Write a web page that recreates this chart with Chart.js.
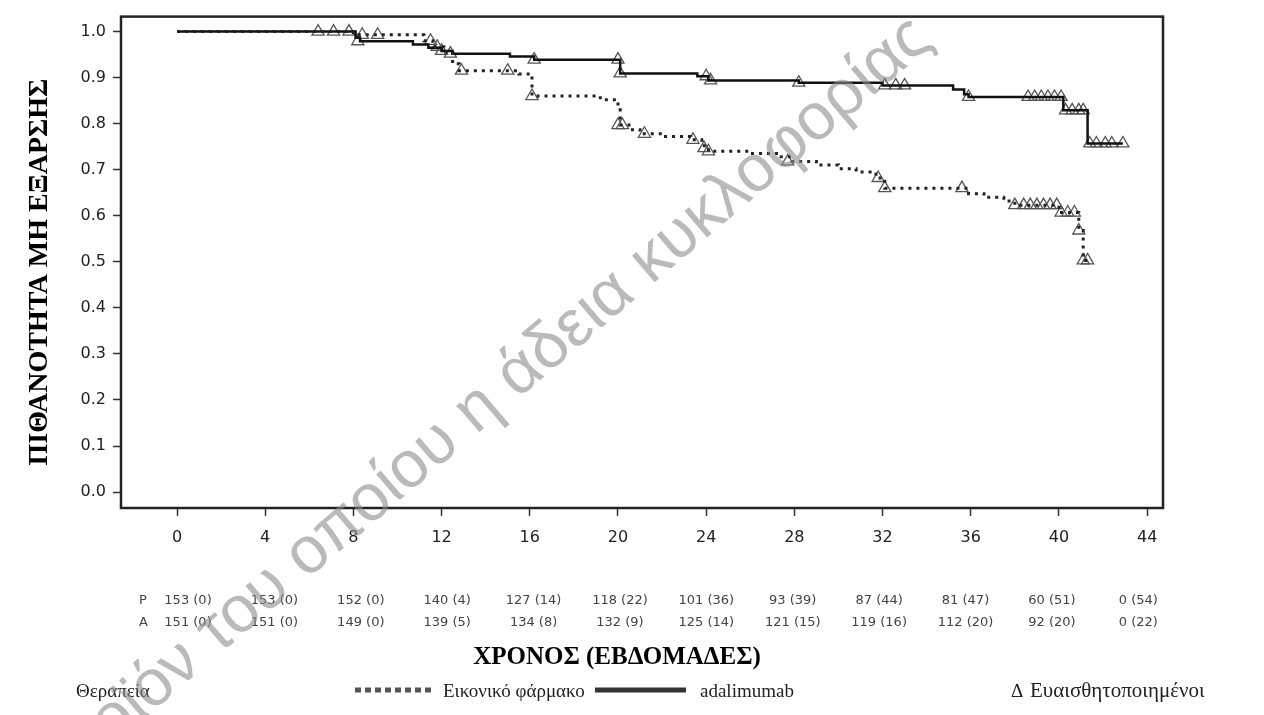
<!DOCTYPE html>
<html>
<head>
<meta charset="utf-8">
<script src="https://cdn.jsdelivr.net/npm/chart.js@4.4.1/dist/chart.umd.min.js"></script>
<style>
  body { margin: 0; background: #fff; }
  canvas { display: block; }
</style>
</head>
<body>
<canvas id="kmChart" width="1264" height="715"></canvas>
<script>
// week ticks on the x axis
const weekTicks = [0, 4, 8, 12, 16, 20, 24, 28, 32, 36, 40, 44];
const probTicks = [0, 0.1, 0.2, 0.3, 0.4, 0.5, 0.6, 0.7, 0.8, 0.9, 1.0];

// Kaplan-Meier steps: [week, probability]
const placeboSteps = [
    [0, 1.0], [8.0, 0.993], [11.2, 0.98], [11.6, 0.967], [12.1, 0.955], [12.5, 0.93], [12.8, 0.915],
    [15.5, 0.908], [16.1, 0.86], [19.2, 0.852], [20.0, 0.83], [20.1, 0.797], [20.5, 0.787],
    [21.0, 0.778], [22.0, 0.772], [23.3, 0.765], [23.8, 0.752], [24.1, 0.74], [26.0, 0.735],
    [27.4, 0.728], [27.9, 0.718], [29.0, 0.71], [30.0, 0.702], [30.8, 0.695], [31.7, 0.682],
    [32.1, 0.66], [35.9, 0.648], [36.6, 0.64], [37.5, 0.632], [38.0, 0.623], [40.0, 0.607],
    [40.9, 0.568], [41.1, 0.503], [41.3, 0.503]
];
const adalimumabSteps = [
    [0, 1.0], [8.1, 0.987], [8.3, 0.979], [10.7, 0.972], [11.4, 0.965], [12.0, 0.958], [12.5, 0.952],
    [15.1, 0.946], [16.2, 0.939], [20.1, 0.909], [23.6, 0.903], [24.1, 0.894], [28.2, 0.889],
    [32.0, 0.883], [35.2, 0.874], [35.7, 0.864], [35.9, 0.858], [40.2, 0.829], [41.3, 0.757],
    [42.9, 0.757]
];

// censored patients (triangles)
const placeboCensored = [
    [7.8, 1.0], [8.4, 0.993], [9.1, 0.993], [11.5, 0.98], [11.8, 0.967], [12.9, 0.915], [15.0, 0.915],
    [16.1, 0.86], [20.0, 0.797], [20.2, 0.797], [21.2, 0.778], [23.4, 0.765], [23.9, 0.747],
    [24.1, 0.74], [27.7, 0.718], [31.8, 0.682], [32.1, 0.66], [35.6, 0.66], [38.0, 0.623],
    [38.4, 0.623], [38.7, 0.623], [39.0, 0.623], [39.3, 0.623], [39.6, 0.623], [39.9, 0.623],
    [40.1, 0.607], [40.4, 0.607], [40.7, 0.607], [40.9, 0.568], [41.1, 0.503], [41.3, 0.503]
];
const adalimumabCensored = [
    [6.4, 1.0], [7.1, 1.0], [8.2, 0.979], [12.0, 0.958], [12.4, 0.952], [16.2, 0.939], [20.0, 0.939],
    [20.1, 0.909], [24.0, 0.903], [24.2, 0.894], [28.2, 0.889], [32.1, 0.883], [32.6, 0.883],
    [33.0, 0.883], [35.9, 0.858], [38.6, 0.858], [38.9, 0.858], [39.2, 0.858], [39.5, 0.858],
    [39.8, 0.858], [40.1, 0.858], [40.3, 0.829], [40.6, 0.829], [40.9, 0.829], [41.1, 0.829],
    [41.4, 0.757], [41.7, 0.757], [42.1, 0.757], [42.4, 0.757], [42.9, 0.757]
];

// number at risk (events) table
const riskPlacebo = ["153 (0)", "153 (0)", "152 (0)", "140 (4)", "127 (14)", "118 (22)", "101 (36)",
    "93 (39)", "87 (44)", "81 (47)", "60 (51)", "0 (54)"];
const riskAdalimumab = ["151 (0)", "151 (0)", "149 (0)", "139 (5)", "134 (8)", "132 (9)", "125 (14)",
    "121 (15)", "119 (16)", "112 (20)", "92 (20)", "0 (22)"];
const riskRowLabels = ["P", "A"];

const xTitle = "ΧΡΟΝΟΣ (ΕΒΔΟΜΑΔΕΣ)";
const yTitle = "ΠΙΘΑΝΟΤΗΤΑ ΜΗ ΕΞΑΡΣΗΣ";
const legendTitle = "Θεραπεία";
const seriesNames = ["Εικονικό φάρμακο", "adalimumab"];
const censorName = "Ευαισθητοποιημένοι";
const watermarkHead = "Φαρμακευτικό προ";
const watermarkTail = "ϊόν του οποίου η άδεια κυκλοφορίας";

const toXY = arr => arr.map(p => ({x: p[0], y: p[1]}));

const serif = '"Liberation Serif", "Times New Roman", serif';
const sans = '"DejaVu Sans", Verdana, sans-serif';

const decorPlugin = {
    id: 'decor',
    afterDraw(chart) {
        const ctx = chart.ctx;
        const a = chart.chartArea;
        const xs = chart.scales.x;

        // frame around plot
        ctx.save();
        ctx.strokeStyle = '#222';
        ctx.lineWidth = 2.5;
        ctx.strokeRect(a.left, a.top, a.right - a.left, a.bottom - a.top);

        // at-risk table
        ctx.font = '13px ' + sans;
        ctx.fillStyle = '#444';
        ctx.textBaseline = 'middle';
        ctx.textAlign = 'left';
        ctx.fillText(riskRowLabels[0], 139, 601);
        ctx.fillText(riskRowLabels[1], 139, 623);
        ctx.textAlign = 'center';
        const colStart = xs.getPixelForValue(0.5), colEnd = xs.getPixelForValue(43.6);
        const step = (colEnd - colStart) / (riskPlacebo.length - 1);
        riskPlacebo.forEach((t, i) => ctx.fillText(t, colStart + step * i, 601));
        riskAdalimumab.forEach((t, i) => ctx.fillText(t, colStart + step * i, 623));

        // axis titles
        ctx.fillStyle = '#000';
        ctx.font = 'bold 25px ' + serif;
        ctx.textAlign = 'center';
        ctx.textBaseline = 'alphabetic';
        ctx.fillText(xTitle, 617, 664);
        ctx.save();
        ctx.translate(47, 272);
        ctx.rotate(-Math.PI / 2);
        ctx.font = 'bold 28px ' + serif;
        ctx.fillText(yTitle, 0, 0);
        ctx.restore();

        // legend row
        ctx.font = '19px ' + serif;
        ctx.textAlign = 'left';
        ctx.fillStyle = '#222';
        ctx.fillText(legendTitle, 76, 697);
        ctx.fillText(seriesNames[0], 443, 697);
        ctx.fillText(seriesNames[1], 700, 697);
        ctx.fillText('Δ', 1011, 697);
        ctx.font = '21px ' + serif;
        ctx.fillText(censorName, 1030, 697);
        ctx.lineWidth = 5;
        ctx.strokeStyle = '#555';
        ctx.setLineDash([6, 4]);
        ctx.beginPath();
        ctx.moveTo(355, 690);
        ctx.lineTo(433, 690);
        ctx.stroke();
        ctx.setLineDash([]);
        ctx.strokeStyle = '#333';
        ctx.beginPath();
        ctx.moveTo(595, 690);
        ctx.lineTo(686, 690);
        ctx.stroke();

        // watermark
        ctx.translate(140, 722);
        ctx.rotate(-40.5 * Math.PI / 180);
        ctx.font = '66px "Liberation Sans", Arial, sans-serif';
        ctx.fillStyle = 'rgba(140,140,140,0.6)';
        ctx.textAlign = 'left';
        ctx.fillText(watermarkTail, 0, 0);
        ctx.textAlign = 'right';
        ctx.fillText(watermarkHead, 0, 0);
        ctx.restore();
    }
};

const tickGrid = {
    display: true,
    drawOnChartArea: false,
    drawTicks: true,
    tickLength: 8,
    tickColor: '#333',
    tickWidth: 1.5
};

const ctx = document.getElementById('kmChart').getContext('2d');
const kmChart = new Chart(ctx, {
    type: 'line',
    data: {
        datasets: [
            {
                label: seriesNames[0],
                data: toXY(placeboSteps),
                stepped: 'before',
                borderColor: '#222',
                borderWidth: 3,
                borderDash: [3, 5],
                pointRadius: 0,
                fill: false
            },
            {
                label: seriesNames[1],
                data: toXY(adalimumabSteps),
                stepped: 'before',
                borderColor: '#111',
                borderWidth: 2.5,
                pointRadius: 0,
                fill: false
            },
            {
                label: censorName,
                data: toXY(placeboCensored),
                showLine: false,
                pointStyle: 'triangle',
                pointRadius: 7,
                pointBorderWidth: 1.3,
                pointBorderColor: '#555',
                pointBackgroundColor: 'rgba(255,255,255,0)'
            },
            {
                label: censorName,
                data: toXY(adalimumabCensored),
                showLine: false,
                pointStyle: 'triangle',
                pointRadius: 7,
                pointBorderWidth: 1.3,
                pointBorderColor: '#555',
                pointBackgroundColor: 'rgba(255,255,255,0)'
            }
        ]
    },
    options: {
        responsive: false,
        animation: false,
        layout: {padding: {left: 61, right: 101, top: 15, bottom: 162}},
        plugins: {legend: {display: false}, tooltip: {enabled: false}},
        scales: {
            x: {
                type: 'linear',
                min: -2.54,
                max: 44.72,
                afterBuildTicks: s => { s.ticks = weekTicks.map(v => ({value: v})); },
                afterFit: s => { s.height = 45; },
                grid: tickGrid,
                border: {display: false},
                ticks: {font: {family: sans, size: 16}, color: '#222', padding: 12, maxRotation: 0}
            },
            y: {
                type: 'linear',
                min: -0.0346,
                max: 1.0325,
                afterBuildTicks: s => { s.ticks = probTicks.map(v => ({value: v})); },
                afterFit: s => { s.width = 60; },
                grid: tickGrid,
                border: {display: false},
                ticks: {font: {family: sans, size: 16}, color: '#222', padding: 7,
                    callback: v => v.toFixed(1)}
            }
        }
    },
    plugins: [decorPlugin]
});
</script>
</body>
</html>
